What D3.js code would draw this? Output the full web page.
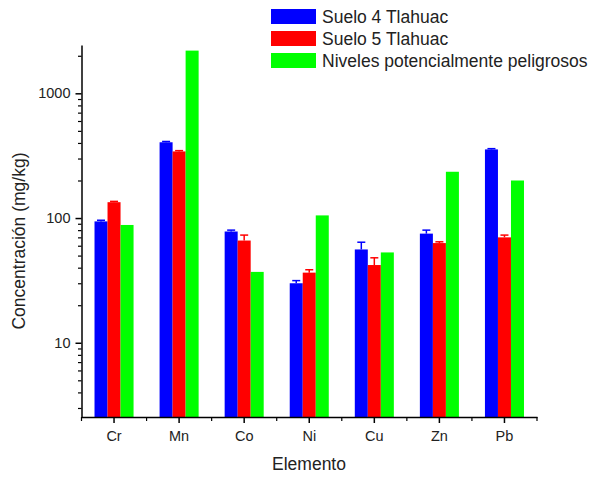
<!DOCTYPE html>
<head>
  <meta charset="utf-8" />
  <script src="https://d3js.org/d3.v7.min.js"></script>
  <style>
    body { margin: 0; background: #fff; }
    svg { display: block; font-family: "Liberation Sans", Arial, sans-serif; }
    text { fill: #222; }
  </style>
</head>

<body>
  <svg width="592" height="478"></svg>

  <script>
    // data
    var elements = ["Cr", "Mn", "Co", "Ni", "Cu", "Zn", "Pb"];
    var seriesNames = ["Suelo 4 Tlahuac", "Suelo 5 Tlahuac", "Niveles potencialmente peligrosos"];
    var seriesColors = ["#0000ff", "#ff0000", "#00ff00"];
    var suelo4 = [94, 405, 78, 30, 56, 75, 355];
    var suelo4Err = [2, 6, 2, 1.5, 8, 5, 5];
    var suelo5 = [134, 342, 66, 36.5, 42, 63, 70];
    var suelo5Err = [2, 5, 7, 2, 6, 1.5, 3];
    var niveles = [88, 2200, 37, 105, 53, 235, 200];
    var yTickValues = [10, 100, 1000];

    var svg = d3.select("svg");
    var plotLeft = 81.5, plotRight = 537, plotTop = 45, plotBottom = 417;

    var x = d3.scaleBand().domain(elements).range([plotLeft, plotRight])
      .paddingInner(0.4).paddingOuter(0.2);
    var xs = d3.scaleBand().domain([0, 1, 2]).range([0, x.bandwidth()]);
    var y = d3.scaleLog().domain([2.54, 2440]).range([plotBottom, plotTop]);

    var series = [
      { vals: suelo4, err: suelo4Err },
      { vals: suelo5, err: suelo5Err },
      { vals: niveles, err: null }
    ];

    // bars
    series.forEach(function (s, si) {
      var g = svg.append("g");
      g.selectAll("rect")
        .data(elements)
        .enter()
        .append("rect")
        .attr("x", function (d) { return x(d) + xs(si); })
        .attr("width", xs.bandwidth())
        .attr("y", function (d, i) { return y(s.vals[i]); })
        .attr("height", function (d, i) { return plotBottom - y(s.vals[i]); })
        .attr("fill", seriesColors[si]);

      if (s.err) {
        elements.forEach(function (d, i) {
          var cx = x(d) + xs(si) + xs.bandwidth() / 2;
          var y0 = y(s.vals[i]), y1 = y(s.vals[i] + s.err[i]);
          g.append("line").attr("x1", cx).attr("x2", cx).attr("y1", y0).attr("y2", y1)
            .attr("stroke", seriesColors[si]).attr("stroke-width", 1.5);
          g.append("line").attr("x1", cx - 4).attr("x2", cx + 4).attr("y1", y1).attr("y2", y1)
            .attr("stroke", seriesColors[si]).attr("stroke-width", 1.5);
        });
      }
    });

    // y axis, minor ticks at 2..9 of each decade
    var minorY = [];
    [1, 10, 100, 1000].forEach(function (dec) {
      for (var k = 2; k <= 9; k++) {
        var v = dec * k;
        if (v >= 2.54 && v <= 2440) minorY.push(v);
      }
    });
    var minorAxis = svg.append("g").attr("transform", "translate(" + plotLeft + ",0)")
      .call(d3.axisLeft(y).tickValues(minorY).tickFormat(function () { return ""; })
        .tickSize(3.5).tickSizeOuter(0));
    minorAxis.select(".domain").remove();
    minorAxis.selectAll(".tick line").attr("stroke", "#000").attr("stroke-width", 1.2);

    var yAxis = svg.append("g").attr("transform", "translate(" + plotLeft + ",0)")
      .call(d3.axisLeft(y).tickValues(yTickValues).tickFormat(d3.format("d"))
        .tickSize(6).tickPadding(5).tickSizeOuter(0));
    yAxis.select(".domain").attr("stroke-width", 1.5);
    yAxis.selectAll(".tick line").attr("stroke-width", 1.5);
    yAxis.selectAll("text").attr("font-size", 14.5).attr("fill", "#222");

    // x axis
    var xAxis = svg.append("g").attr("transform", "translate(0," + plotBottom + ")")
      .call(d3.axisBottom(x).tickSize(6).tickPadding(8).tickSizeOuter(0));
    xAxis.select(".domain").attr("stroke-width", 1.5);
    xAxis.selectAll(".tick line").attr("stroke-width", 1.5);
    xAxis.selectAll("text").attr("font-size", 14.5).attr("fill", "#222");
    var bounds = d3.range(elements.length + 1).map(function (i) { return plotLeft + i * x.step(); });
    svg.append("g").selectAll("line").data(bounds).enter().append("line")
      .attr("x1", function (d) { return d; }).attr("x2", function (d) { return d; })
      .attr("y1", plotBottom).attr("y2", plotBottom + 4)
      .attr("stroke", "#000").attr("stroke-width", 1.2);

    // axis titles
    svg.append("text")
      .attr("transform", "translate(25,241) rotate(-90)")
      .attr("text-anchor", "middle")
      .attr("font-size", 17.5)
      .text("Concentración (mg/kg)");
    svg.append("text")
      .attr("x", 309).attr("y", 470)
      .attr("text-anchor", "middle")
      .attr("font-size", 17.5)
      .text("Elemento");

    // legend
    var legend = svg.append("g").attr("transform", "translate(271,9)");
    seriesNames.forEach(function (name, i) {
      legend.append("rect").attr("x", 0).attr("y", i * 22).attr("width", 45).attr("height", 15)
        .attr("fill", seriesColors[i]);
      legend.append("text").attr("x", 51).attr("y", i * 22 + 14)
        .attr("font-size", 17.5).text(name);
    });
  </script>
</body>
